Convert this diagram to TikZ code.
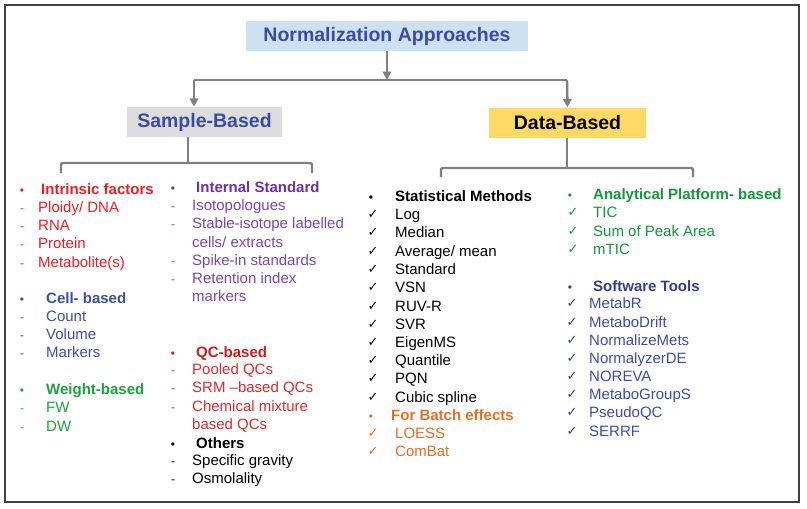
\documentclass[tikz,border=0pt]{standalone}
\usepackage{fontspec}
\setmainfont{Liberation Sans}
\newfontfamily\symfont{DejaVu Sans}
\usetikzlibrary{arrows.meta}
\definecolor{headBlue}{RGB}{58,76,160}
\definecolor{titleBlue}{RGB}{205,225,243}
\definecolor{sampleGrey}{RGB}{221,221,221}
\definecolor{dataGold}{RGB}{255,217,102}
\definecolor{connGrey}{RGB}{128,128,128}
\definecolor{frameGrey}{RGB}{64,64,64}
\definecolor{intRed}{RGB}{235,30,35}
\definecolor{cellBlue}{RGB}{60,78,165}
\definecolor{wtGreen}{RGB}{30,160,60}
\definecolor{isPurple}{RGB}{112,48,160}
\definecolor{isLight}{RGB}{125,70,175}
\definecolor{qcRed}{RGB}{200,30,30}
\definecolor{qcLight}{RGB}{215,45,45}
\definecolor{batchOrange}{RGB}{228,110,40}
\definecolor{apGreen}{RGB}{20,150,60}
\definecolor{swBlue}{RGB}{50,60,150}
\tikzset{
  box/.style={minimum height=30pt, inner sep=0pt, font=\fontsize{19.5}{22}\selectfont\bfseries},
  conn/.style={line width=2.4pt, draw=connGrey},
  tip/.style={conn, -{Triangle[width=8.5pt,length=8.5pt]}},
  txt/.style={anchor=mid west, inner sep=0pt, yshift=-2.5pt, font=\fontsize{15}{17}\selectfont},
  hd/.style={txt, font=\fontsize{15}{17}\selectfont\bfseries},
  bul/.style={anchor=mid, inner sep=0pt, yshift=-2.5pt, font=\fontsize{12}{14}\selectfont},
  chk/.style={anchor=mid, inner sep=0pt, yshift=-2pt, font=\symfont\fontsize{13}{14}\selectfont},
}
\begin{document}
\begin{tikzpicture}[x=1pt, y=-1pt]
\useasboundingbox (0,0) rectangle (807,509);
\draw[frameGrey, line width=1.5pt] (5,5) rectangle (799,502);

% header boxes
\node[box, fill=titleBlue, text=headBlue, minimum width=282pt] (title) at (387,36) {Normalization Approaches};
\node[box, fill=sampleGrey, text=headBlue, minimum width=155pt] (sample) at (204.5,122) {Sample-Based};
\node[box, fill=dataGold, minimum width=157pt] (data) at (567.5,122.5) {Data-Based};

% connectors
\coordinate (jl) at (194,80);
\coordinate (jr) at (567,80);
\draw[tip] (title.south) -- (title.south |- jl);
\draw[conn] (jl) -- (jr);
\draw[tip] (jl) -- (jl |- sample.north);
\draw[tip] (jr) -- (data.north);
\coordinate (sj) at (188,163);
\coordinate (sl) at (61,173);
\coordinate (sr) at (312,173);
\draw[conn] (sj |- sample.south) -- (sj);
\draw[conn, rounded corners=2pt] (sl) |- (sj) -| (sr);
\coordinate (dj) at (567,168);
\coordinate (dl) at (441,177);
\coordinate (dr) at (693,177);
\draw[conn] (dj |- data.south) -- (dj);
\draw[conn, rounded corners=2pt] (dl) |- (dj) -| (dr);

% column 1
\node[bul, intRed] (ifb) at (22,189) {•};
\node[hd, intRed] (ifh) at (41,189) {Intrinsic factors};
\foreach \y/\t [count=\i] in {207/{Ploidy/ DNA},225/RNA,243/Protein,262/Metabolite(s)}{
  \node[bul, intRed] (ifd\i) at (22,\y) {-};
  \node[txt, intRed] (if\i) at (38,\y) {\t};
}
\node[bul, cellBlue] (cbb) at (22,298) {•};
\node[hd, cellBlue] (cbh) at (46,298) {Cell- based};
\foreach \y/\t [count=\i] in {316/Count,334/Volume,352/Markers}{
  \node[bul, cellBlue] (cbd\i) at (22,\y) {-};
  \node[txt, cellBlue] (cb\i) at (46,\y) {\t};
}
\node[bul, wtGreen] (wbb) at (22,389) {•};
\node[hd, wtGreen] (wbh) at (46,389) {Weight-based};
\foreach \y/\t [count=\i] in {407/FW,426/DW}{
  \node[bul, wtGreen] (wbd\i) at (22,\y) {-};
  \node[txt, wtGreen] (wb\i) at (46,\y) {\t};
}

% column 2
\node[bul, isPurple] (isb) at (173,187) {•};
\node[hd, isPurple] (ish) at (196,187) {Internal Standard};
\foreach \y/\t [count=\i] in {205/Isotopologues,223/Stable-isotope labelled,260/Spike-in standards,278/Retention index}{
  \node[bul, isLight] (isd\i) at (173,\y) {-};
  \node[txt, isLight] (is\i) at (192,\y) {\t};
}
\node[txt, isLight] (is2b) at (192,242) {cells/ extracts};
\node[txt, isLight] (is4b) at (192,296) {markers};
\node[bul, qcRed] (qcb) at (173,352) {•};
\node[hd, qcRed] (qch) at (196,352) {QC-based};
\foreach \y/\t [count=\i] in {369/Pooled QCs,387/SRM –based QCs,406/Chemical mixture}{
  \node[bul, qcLight] (qcd\i) at (173,\y) {-};
  \node[txt, qcLight] (qc\i) at (192,\y) {\t};
}
\node[txt, qcLight] (qc3b) at (192,424) {based QCs};
\node[bul] (otb) at (173,443) {•};
\node[hd] (oth) at (196,443) {Others};
\foreach \y/\t [count=\i] in {460/Specific gravity,478/Osmolality}{
  \node[bul] (otd\i) at (173,\y) {-};
  \node[txt] (ot\i) at (192,\y) {\t};
}

% column 3
\node[bul] (smb) at (371,196) {•};
\node[hd] (smh) at (395,196) {Statistical Methods};
\foreach \y/\t [count=\i] in {214/Log,232/Median,251/{Average/ mean},269/Standard,287/VSN,306/RUV-R,324/SVR,342/EigenMS,360/Quantile,378/PQN,397/Cubic spline}{
  \node[chk] (smc\i) at (373,\y) {✓};
  \node[txt] (sm\i) at (395,\y) {\t};
}
\node[bul, batchOrange] (beb) at (371,415) {•};
\node[hd, batchOrange] (beh) at (391,415) {For Batch effects};
\foreach \y/\t [count=\i] in {433/LOESS,451/ComBat}{
  \node[chk, batchOrange] (bec\i) at (373,\y) {✓};
  \node[txt, batchOrange] (be\i) at (395,\y) {\t};
}

% column 4
\node[bul, apGreen] (apb) at (570,194) {•};
\node[hd, apGreen] (aph) at (593,194) {Analytical Platform- based};
\foreach \y/\t [count=\i] in {212/TIC,231/Sum of Peak Area,249/mTIC}{
  \node[chk, apGreen] (apc\i) at (573,\y) {✓};
  \node[txt, apGreen] (ap\i) at (593,\y) {\t};
}
\node[bul, swBlue] (swb) at (570,286) {•};
\node[hd, swBlue] (swh) at (593,286) {Software Tools};
\foreach \y/\t [count=\i] in {303/MetabR,322/MetaboDrift,340/NormalizeMets,358/NormalyzerDE,376/NOREVA,394/MetaboGroupS,412/PseudoQC,431/SERRF}{
  \node[chk, swBlue] (swc\i) at (572,\y) {✓};
  \node[txt, cellBlue] (sw\i) at (589,\y) {\t};
}
\end{tikzpicture}
\end{document}
